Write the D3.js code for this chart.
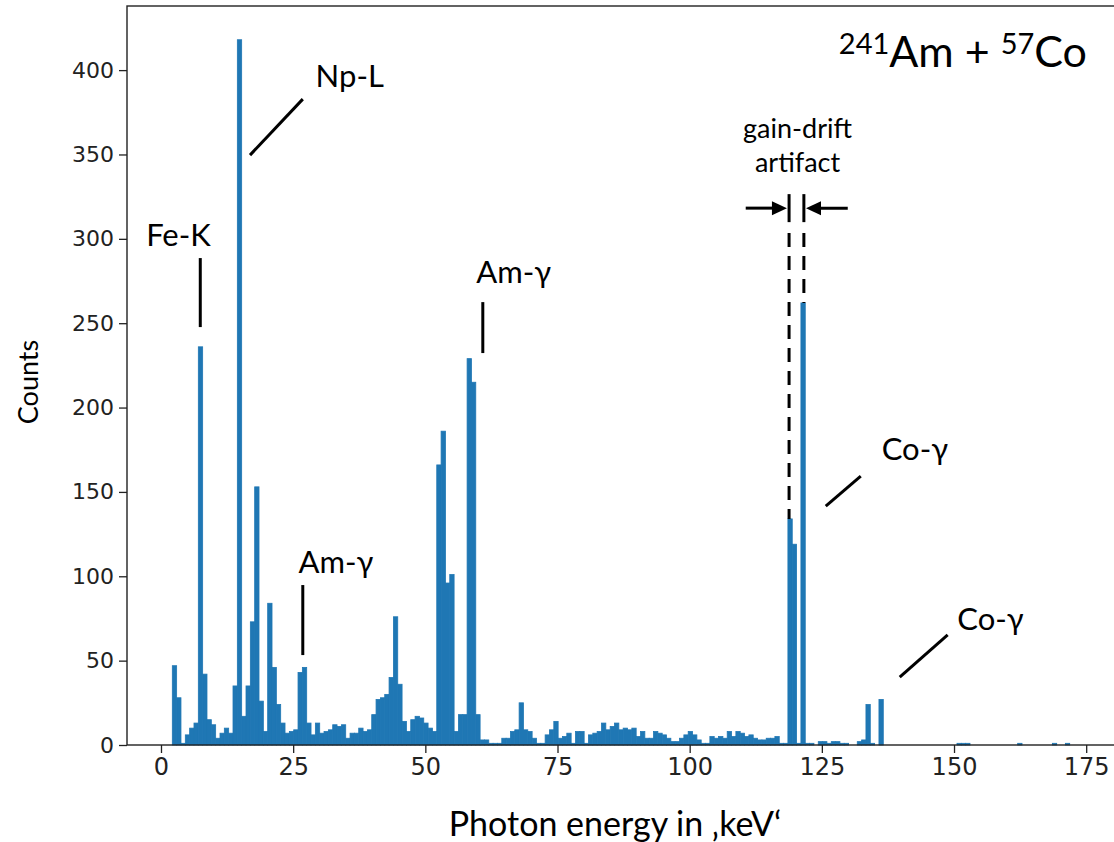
<!DOCTYPE html>
<html lang="en">
<head>
<meta charset="utf-8">
<title>241Am + 57Co spectrum</title>
<script src="https://d3js.org/d3.v7.min.js"></script>
<style>
  body { margin: 0; background: #fff; }
  .tick text { font-family: "DejaVu Sans", sans-serif; fill: #222; }
  .note { font-family: Lato, "Open Sans", sans-serif; fill: #000; }
</style>
</head>
<body>
<div id="chart"></div>
<script>

// histogram: first bin starts at binStart keV, every bin is binWidth keV wide
var binStart = 2.14;
var binWidth = 0.82;

// counts per bin
var counts = [
  47, 28, 1, 6, 10, 13, 236, 42, 15, 12,
  4, 7, 10, 7, 35, 418, 17, 35, 73, 153,
  26, 8, 84, 46, 24, 13, 7, 8, 9, 43,
  46, 13, 6, 13, 7, 8, 9, 12, 11, 12,
  4, 7, 7, 10, 8, 9, 18, 27, 28, 30,
  40, 76, 36, 14, 8, 15, 17, 16, 13, 10,
  8, 166, 186, 96, 101, 8, 18, 18, 229, 215,
  18, 3, 3, 1, 1, 1, 4, 4, 8, 9,
  25, 9, 8, 4, 1, 1, 6, 9, 14, 4,
  5, 7, 1, 8, 8, 1, 6, 7, 8, 13,
  9, 11, 13, 9, 10, 9, 10, 5, 8, 4,
  4, 8, 7, 6, 4, 2, 2, 4, 6, 8,
  6, 3, 1, 1, 5, 4, 5, 4, 8, 5,
  8, 7, 5, 6, 4, 3, 3, 4, 4, 5,
  1, 1, 134, 119, 1, 262, 1, 1, 0, 2,
  2, 1, 2, 2, 1, 1, 0, 0, 2, 3,
  24, 1, 0, 27, 0, 0, 0, 0, 0, 0,
  0, 0, 0, 0, 0, 0, 0, 0, 0, 0,
  0, 1, 1, 1, 0, 0, 0, 0, 0, 0,
  0, 0, 0, 0, 0, 1, 0, 0, 0, 0,
  0, 0, 0, 1, 0, 0, 1
];

var xTicks = [0, 25, 50, 75, 100, 125, 150, 175];
var yTicks = [0, 50, 100, 150, 200, 250, 300, 350, 400];

// peak labels (keV, counts) and their leader lines
var peakLabels = [
  {text: "Fe-K", x: 3.3, y: 296},
  {text: "Np-L", x: 35.7, y: 390},
  {text: "Am-γ", x: 33.1, y: 102},
  {text: "Am-γ", x: 66.7, y: 274},
  {text: "Co-γ", x: 142.6, y: 169},
  {text: "Co-γ", x: 156.9, y: 68}
];
var leaders = [
  [[7.43, 288.6], [7.43, 247.7]],
  [[16.84, 349.6], [26.82, 382.8]],
  [[26.82, 94.8], [26.82, 53.3]],
  [[60.87, 262.5], [60.87, 232.3]],
  [[125.74, 141.6], [132.36, 159.4]],
  [[139.73, 40.3], [148.8, 65.2]]
];

// gain-drift marker: the two peak positions and the arrows pointing at them
var driftLines = [118.8, 121.6];
var driftTop = 303.4;
var driftBottoms = [134, 262];

var width = 1114, height = 842;

var svg = d3.select("#chart")
  .append("svg")
    .attr("width", width)
    .attr("height", height);

var x = d3.scaleLinear()
  .domain([-6.43, 180.6])
  .range([127, 1115.8]);

var y = d3.scaleLinear()
  .domain([0, 438])
  .range([745, 6]);

// bars
svg.append("g")
  .selectAll("rect")
  .data(counts)
  .enter()
  .append("rect")
    .attr("x", function(d, i) { return x(binStart + i * binWidth); })
    .attr("width", function(d, i) { return x(binStart + (i + 1) * binWidth) - x(binStart + i * binWidth); })
    .attr("y", function(d) { return y(d); })
    .attr("height", function(d) { return y(0) - y(d); })
    .style("fill", "#1f77b4")
    .style("stroke", function(d) { return d > 0 ? "#1f77b4" : "none"; })
    .style("stroke-width", 0.8);

// axes
var xAxis = svg.append("g")
  .attr("transform", "translate(0," + y(0) + ")")
  .call(d3.axisBottom(x).tickValues(xTicks).tickSize(8).tickPadding(5));
xAxis.select(".domain").remove();
xAxis.selectAll("text").style("font-size", "24px");

var yAxis = svg.append("g")
  .attr("transform", "translate(" + x.range()[0] + ",0)")
  .call(d3.axisLeft(y).tickValues(yTicks).tickSize(8).tickPadding(5));
yAxis.select(".domain").remove();
yAxis.selectAll("text").style("font-size", "22px");

svg.selectAll(".tick line").attr("stroke", "#222").attr("stroke-width", 1.3);

// frame
svg.append("rect")
  .attr("x", x.range()[0])
  .attr("y", y.range()[1])
  .attr("width", x.range()[1] - x.range()[0])
  .attr("height", y.range()[0] - y.range()[1])
  .style("fill", "none")
  .style("stroke", "#222")
  .style("stroke-width", 1.4);

// axis titles
svg.append("text")
  .attr("class", "note")
  .attr("text-anchor", "middle")
  .attr("x", 615)
  .attr("y", 836)
  .style("font-size", "34px")
  .text("Photon energy in \u201AkeV\u2018");

svg.append("text")
  .attr("class", "note")
  .attr("text-anchor", "middle")
  .attr("transform", "translate(38,382) rotate(-90)")
  .style("font-size", "27px")
  .text("Counts");

// peak labels
svg.append("g")
  .selectAll("text")
  .data(peakLabels)
  .enter()
  .append("text")
    .attr("class", "note")
    .attr("text-anchor", "middle")
    .attr("x", function(d) { return x(d.x); })
    .attr("y", function(d) { return y(d.y); })
    .style("font-size", "31px")
    .text(function(d) { return d.text; });

svg.append("g")
  .selectAll("line")
  .data(leaders)
  .enter()
  .append("line")
    .attr("x1", function(d) { return x(d[0][0]); })
    .attr("y1", function(d) { return y(d[0][1]); })
    .attr("x2", function(d) { return x(d[1][0]); })
    .attr("y2", function(d) { return y(d[1][1]); })
    .style("stroke", "#000")
    .style("stroke-width", 3);

// gain-drift artifact marker
svg.append("g")
  .selectAll("line")
  .data(driftLines)
  .enter()
  .append("line")
    .attr("x1", function(d) { return x(d); })
    .attr("x2", function(d) { return x(d); })
    .attr("y1", y(driftTop))
    .attr("y2", function(d, i) { return y(driftBottoms[i]); })
    .style("stroke", "#000")
    .style("stroke-width", 3)
    .style("stroke-dasharray", "14,9");

svg.append("g")
  .selectAll("line")
  .data(driftLines)
  .enter()
  .append("line")
    .attr("x1", function(d) { return x(d); })
    .attr("x2", function(d) { return x(d); })
    .attr("y1", y(326.5))
    .attr("y2", y(309.9))
    .style("stroke", "#000")
    .style("stroke-width", 3);

// arrows: [from, to] in keV at the same height
var arrows = [[110.6, 118.4], [129.9, 122.0]];
var arrowY = y(318.2);
arrows.forEach(function(a) {
  var x0 = x(a[0]), x1 = x(a[1]);
  var dir = x1 > x0 ? 1 : -1;
  svg.append("line")
    .attr("x1", x0).attr("x2", x1 - dir * 10)
    .attr("y1", arrowY).attr("y2", arrowY)
    .style("stroke", "#000")
    .style("stroke-width", 3);
  svg.append("path")
    .attr("d", "M" + x1 + "," + arrowY +
               "L" + (x1 - dir * 15) + "," + (arrowY - 7) +
               "L" + (x1 - dir * 15) + "," + (arrowY + 7) + "Z")
    .style("fill", "#000");
});

svg.append("text")
  .attr("class", "note")
  .attr("text-anchor", "middle")
  .attr("x", x(120.4))
  .attr("y", y(359.7))
  .style("font-size", "27px")
  .text("gain-drift");

svg.append("text")
  .attr("class", "note")
  .attr("text-anchor", "middle")
  .attr("x", x(120.4))
  .attr("y", y(339.6))
  .style("font-size", "27px")
  .text("artifact");

// source label
var title = svg.append("text")
  .attr("class", "note")
  .attr("text-anchor", "end")
  .attr("x", 1087)
  .attr("y", 67);
title.append("tspan").style("font-size", "29px").attr("dy", -13).text("241");
title.append("tspan").style("font-size", "43px").attr("dy", 13).text("Am + ");
title.append("tspan").style("font-size", "29px").attr("dy", -13).text("57");
title.append("tspan").style("font-size", "43px").attr("dy", 13).text("Co");

</script>
</body>
</html>
